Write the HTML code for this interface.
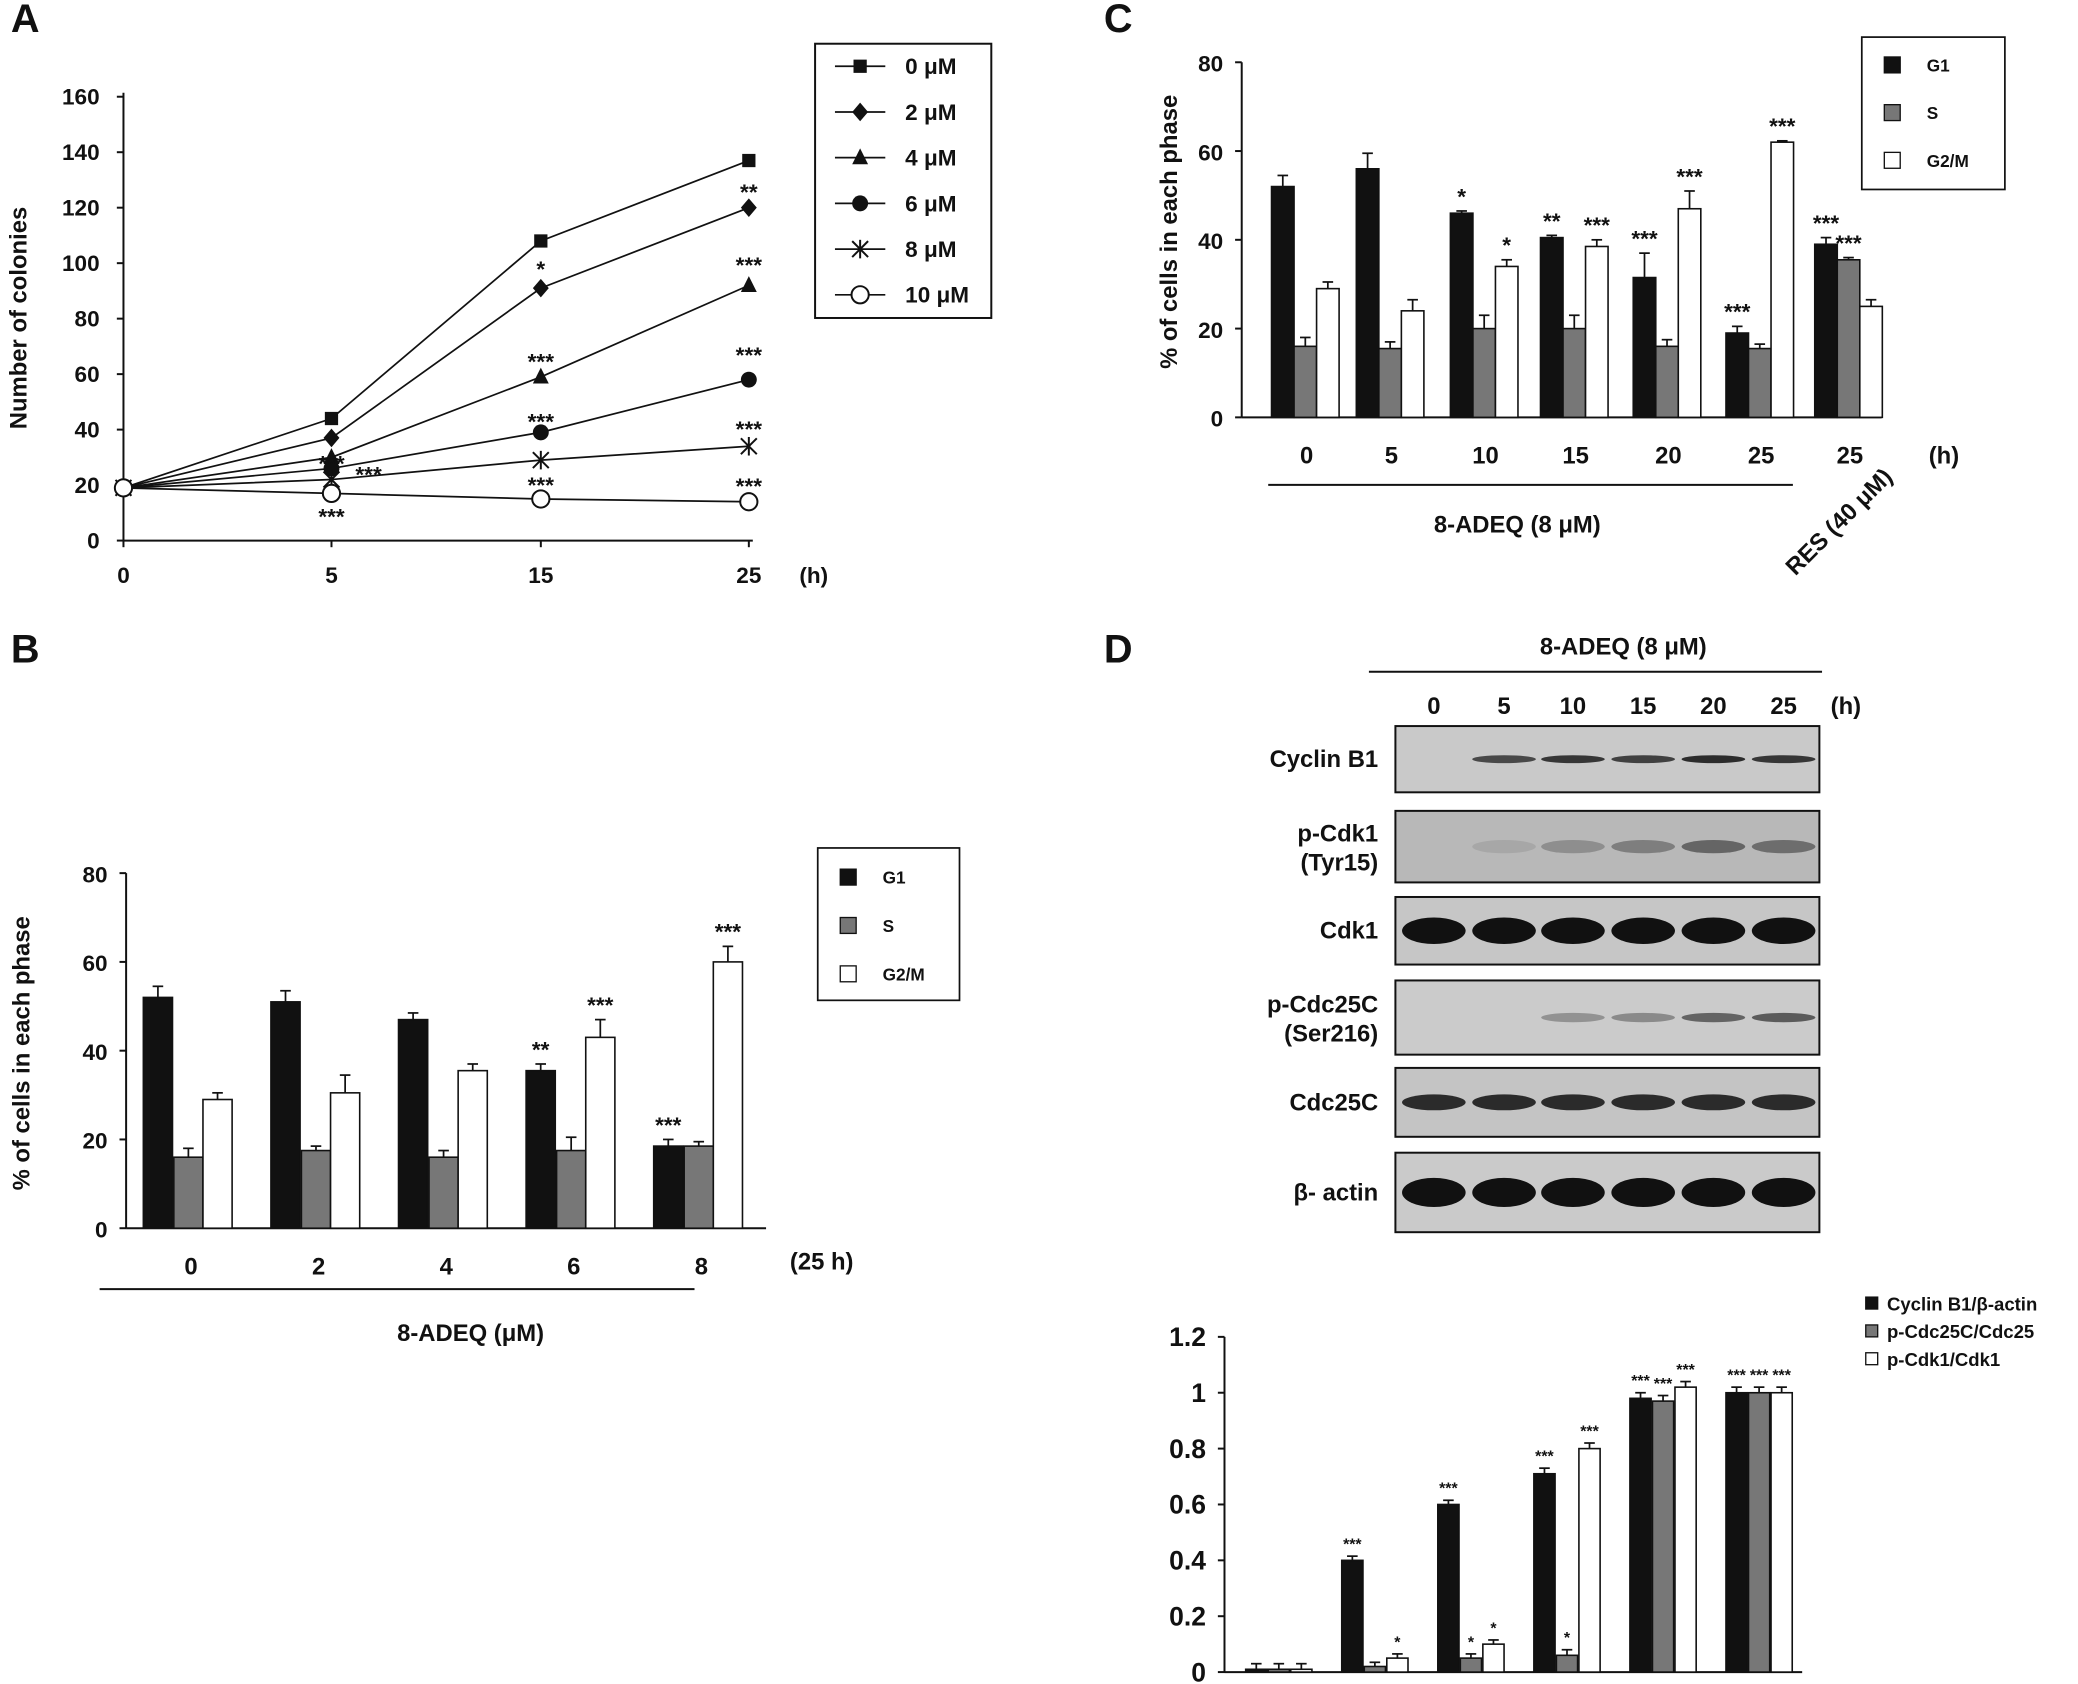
<!DOCTYPE html>
<html><head><meta charset="utf-8">
<style>
html,body{margin:0;padding:0;background:#fff;}
svg{display:block;font-family:"Liberation Sans",Arial,sans-serif;}
text{font-weight:bold;fill:#111;}
</style></head>
<body>
<svg id="fig" width="2078" height="1684" viewBox="0 0 1568 1271" xmlns="http://www.w3.org/2000/svg">
<g id="root"></g>
</svg>
<script>
// ---------- Data ----------
const aTimes=[0,5,15,25];
const aLabels=["0 μM","2 μM","4 μM","6 μM","8 μM","10 μM"];
const a0=[19,44,108,137];
const a2=[19,37,91,120];
const a4=[19,30,59,92];
const a6=[19,26,39,58];
const a8=[19,22,29,34];
const a10=[19,17,15,14];
const aYTicks=[0,20,40,60,80,100,120,140,160];

const bCats=["0","2","4","6","8"];
const bG1=[52,51,47,35.5,18.5];
const bS=[16,17.5,16,17.5,18.5];
const bG2M=[29,30.5,35.5,43,60];
const bG1e=[2.5,2.5,1.5,1.5,1.5];
const bSe=[2,1,1.5,3,1];
const bG2Me=[1.5,4,1.5,4,3.5];

const cCats=["0","5","10","15","20","25","25"];
const cG1=[52,56,46,40.5,31.5,19,39];
const cS=[16,15.5,20,20,16,15.5,35.5];
const cG2M=[29,24,34,38.5,47,62,25];
const cG1e=[2.5,3.5,0.5,0.5,5.5,1.5,1.5];
const cSe=[2,1.5,3,3,1.5,1,0.5];
const cG2Me=[1.5,2.5,1.5,1.5,4,0.3,1.5];

const dCB=[0.01,0.4,0.6,0.71,0.98,1.0];
const dCdc=[0.01,0.02,0.05,0.06,0.97,1.0];
const dCdk=[0.01,0.05,0.1,0.8,1.02,1.0];
const dE=[0.02,0.015,0.015,0.02,0.02,0.02];
const dTicks=[0,0.2,0.4,0.6,0.8,1,1.2];
const dTickLbl=["0","0.2","0.4","0.6","0.8","1","1.2"];

// ---------- helpers ----------
const NS="http://www.w3.org/2000/svg";
const root=document.getElementById('root');
function mk(tag,attrs,parent,txt){const e=document.createElementNS(NS,tag);for(const k in attrs)e.setAttribute(k,attrs[k]);if(txt!==undefined)e.textContent=txt;(parent||root).appendChild(e);return e;}
function line(x1,y1,x2,y2,w,p){return mk('line',{x1,y1,x2,y2,stroke:'#111','stroke-width':w||1.5},p);}
function txt(x,y,s,size,anchor,p){return mk('text',{x,y,'font-size':size||17,'text-anchor':anchor||'middle'},p,s);}

// panel letters
[["A",8,24],["B",8,500],["C",833,24],["D",833,500]].forEach(l=>{
 const t=txt(l[1],l[2],l[0],30,'start');
 
 
});

// ---------- Panel A ----------
(function(){
 const g=mk('g',{});
 
 
 const X=t=>93+ (t===0?0: t===5?157: t===15?315:472);
 const Y=v=>408-v*(335/160);
 line(93,70,93,408,1.5,g);line(93,408,568,408,1.5,g);
 aYTicks.forEach(v=>{line(88,Y(v),93,Y(v),1.5,g);txt(75,Y(v)+6,String(v),17,'end',g);});
 aTimes.forEach(t=>{line(X(t),408,X(t),413,1.5,g);txt(X(t),440,String(t),17,'middle',g);});
 txt(614,440,"(h)",17,'middle',g);
 const yt=txt(0,0,"Number of colonies",18,'middle',g);
 yt.setAttribute('transform','translate(20,240) rotate(-90)');
 
 const series=[a0,a2,a4,a6,a8,a10];
 const marker=(k,x,y,p)=>{
  if(k===0)mk('rect',{x:x-5,y:y-5,width:10,height:10,fill:'#111'},p);
  else if(k===1)mk('path',{d:`M${x} ${y-7}L${x+6} ${y}L${x} ${y+7}L${x-6} ${y}Z`,fill:'#111'},p);
  else if(k===2)mk('path',{d:`M${x} ${y-7}L${x+6} ${y+5}L${x-6} ${y+5}Z`,fill:'#111'},p);
  else if(k===3)mk('circle',{cx:x,cy:y,r:6,fill:'#111'},p);
  else if(k===4){line(x-6,y-6,x+6,y+6,1.5,p);line(x-6,y+6,x+6,y-6,1.5,p);line(x,y-7,x,y+7,1.5,p);}
  else mk('circle',{cx:x,cy:y,r:6.5,fill:'#fff',stroke:'#111','stroke-width':1.5},p);
 };
 series.forEach((s,k)=>{
  const sg=mk('g',{},g);
  
  
  mk('polyline',{points:s.map((v,i)=>X(aTimes[i])+','+Y(v)).join(' '),fill:'none',stroke:'#111','stroke-width':1.3},sg);
  s.forEach((v,i)=>marker(k,X(aTimes[i]),Y(v),sg));
 });
 // stars
 [[408,205,"*"],[565,147,"**"],[565,202,"***"],[408,275,"***"],[565,270,"***"],[408,320,"***"],[565,326,"***"],[250,352,"***"],[278,360,"***"],[408,368,"***"],[565,369,"***"],[250,392,"***"]].forEach(s=>txt(s[0],s[1]+4,s[2],17,'middle',g));
 // legend
 const lg=mk('g',{},g);
 
 
 mk('rect',{x:615,y:33,width:133,height:207,fill:'#fff',stroke:'#111','stroke-width':1.5},lg);
 aLabels.forEach((l,k)=>{const y=50+k*34.5;line(630,y,668,y,1.3,lg);marker(k,649,y,lg);txt(683,y+6,l,17,'start',lg);});
})();

// ---------- bar helper ----------
function barChart(o){
 const g=mk('g',{});
 
 
 const Y=v=>o.y0-(v-o.vmin)*o.ppu;
 line(o.x0,Y(o.vmax),o.x0,o.y0,1.5,g);line(o.x0,o.y0,o.x1,o.y0,1.5,g);
 o.ticks.forEach((v,i)=>{line(o.x0-5,Y(v),o.x0,Y(v),1.5,g);txt(o.x0-14,Y(v)+7,o.tickLbl?o.tickLbl[i]:String(v),o.tsize||17,'end',g);});
 const fills=['#111','#777','#fff'];
 o.series.forEach((s,k)=>{
  s.forEach((v,i)=>{
   const cx=o.cx(i)+o.off[k];
   const e=o.err[k][i];
   line(cx,Y(v),cx,Y(v+e),1.3,g);line(cx-4,Y(v+e),cx+4,Y(v+e),1.3,g);
   const r=mk('rect',{x:cx-o.bw/2,y:Y(v),width:o.bw,height:o.y0-Y(v),fill:fills[k],stroke:'#111','stroke-width':1.2},g);
   
   
  });
 });
 if(o.cats)o.cats.forEach((c,i)=>txt(o.cx(i),o.y0+35,c,18,'middle',g));
 (o.stars||[]).forEach(s=>{const cx=o.cx(s[0])+o.off[s[1]];txt(cx,Y(o.series[s[1]][s[0]]+o.err[s[1]][s[0]])-5,s[2],o.ssize||17,'middle',g);});
 return g;
}

// ---------- Panel B ----------
(function(){
 const g=barChart({name:'panel-b-bar-chart',x0:95,x1:578,y0:927,vmin:0,vmax:80,ppu:268/80,ticks:[0,20,40,60,80],
  cx:i=>144+i*96.3,off:[-25,-2,20],bw:22,series:[bG1,bS,bG2M],err:[bG1e,bSe,bG2Me],sn:['g1','s','g2m'],cats:bCats,
  stars:[[3,0,"**"],[3,2,"***"],[4,0,"***"],[4,2,"***"]]});
 const yt=txt(0,0,"% of cells in each phase",18,'middle',g);
 yt.setAttribute('transform','translate(22,795) rotate(-90)');
 line(75,973,524,973,1.5,g);
 txt(355,1012,"8-ADEQ (μM)",18,'middle',g);
 txt(620,958,"(25 h)",18,'middle',g);
 const lg=mk('g',{},g);
 
 
 mk('rect',{x:617,y:640,width:107,height:115,fill:'#fff',stroke:'#111','stroke-width':1.3},lg);
 [['#111','G1'],['#777','S'],['#fff','G2/M']].forEach((l,k)=>{const y=662+k*36.5;mk('rect',{x:634,y:y-6,width:12,height:12,fill:l[0],stroke:'#111'},lg);txt(666,y+5,l[1],13,'start',lg);});
})();

// ---------- Panel C ----------
(function(){
 const cxs=[986,1050,1121,1189,1259,1329,1396];
 const g=barChart({name:'panel-c-bar-chart',x0:937,x1:1420,y0:315,vmin:0,vmax:80,ppu:268/80,ticks:[0,20,40,60,80],
  cx:i=>cxs[i],off:[-18,-1,16],bw:17,series:[cG1,cS,cG2M],err:[cG1e,cSe,cG2Me],sn:['g1','s','g2m'],cats:cCats,
  stars:[[2,0,"*"],[2,2,"*"],[3,0,"**"],[3,2,"***"],[4,0,"***"],[4,2,"***"],[5,0,"***"],[5,2,"***"],[6,0,"***"],[6,1,"***"]]});
 const yt=txt(0,0,"% of cells in each phase",18,'middle',g);
 yt.setAttribute('transform','translate(888,175) rotate(-90)');
 line(957,366,1353,366,1.5,g);
 txt(1145,402,"8-ADEQ (8 μM)",18,'middle',g);
 txt(1467,350,"(h)",18,'middle',g);
 const r=txt(0,0,"RES (40 μM)",18,'middle',g);
 r.setAttribute('transform','translate(1392,398) rotate(-45)');
 const lg=mk('g',{},g);
 
 
 mk('rect',{x:1405,y:28,width:108,height:115,fill:'#fff',stroke:'#111','stroke-width':1.3},lg);
 [['#111','G1'],['#777','S'],['#fff','G2/M']].forEach((l,k)=>{const y=49+k*36;mk('rect',{x:1422,y:y-6,width:12,height:12,fill:l[0],stroke:'#111'},lg);txt(1454,y+5,l[1],13,'start',lg);});
})();

// ---------- Panel D blots ----------
(function(){
 const g=mk('g',{});
 
 
 txt(1225,494,"8-ADEQ (8 μM)",18,'middle',g);
 line(1033,507,1375,507,1.5,g);
 const lanes=[1082,1135,1187,1240,1293,1346];
 ["0","5","10","15","20","25"].forEach((l,i)=>txt(lanes[i],539,l,18,'middle',g));
 txt(1393,539,"(h)",18,'middle',g);
 const blots=[
  ["Cyclin B1",548,598,[0,0.7,0.8,0.75,0.85,0.8],'#c9c9c9',6],
  ["p-Cdk1|(Tyr15)",612,666,[0,0.1,0.25,0.35,0.5,0.45],'#b8b8b8',10],
  ["Cdk1",677,728,[1,1,1,1,1,1],'#c6c6c6',20],
  ["p-Cdc25C|(Ser216)",740,796,[0,0,0.3,0.35,0.55,0.6],'#cbcbcb',7],
  ["Cdc25C",806,858,[0.85,0.85,0.85,0.85,0.85,0.85],'#c4c4c4',12],
  ["β- actin",870,930,[1,1,1,1,1,1],'#cacaca',22]];
 blots.forEach(b=>{
  const bg=mk('g',{},g);
  
  
  mk('rect',{x:1053,y:b[1],width:320,height:b[2]-b[1],fill:b[4],stroke:'#111','stroke-width':1.5},bg);
  const cy=(b[1]+b[2])/2;
  b[3].forEach((a,i)=>{if(a>0)mk('ellipse',{cx:lanes[i],cy,rx:24,ry:b[5]/2,fill:'#111','fill-opacity':a},bg);});
  const parts=b[0].split('|');
  if(parts.length===1)txt(1040,cy+6,parts[0],18,'end',bg);
  else{txt(1040,cy-4,parts[0],18,'end',bg);txt(1040,cy+18,parts[1],18,'end',bg);}
 });
})();

// ---------- Panel D bars ----------
(function(){
 const g=barChart({name:'panel-d-bar-chart',x0:924,x1:1360,y0:1262,vmin:0,vmax:1.2,ppu:253/1.2,ticks:dTicks,tickLbl:dTickLbl,tsize:20,
  cx:i=>965+i*72.5,off:[-17,0,17],bw:16,series:[dCB,dCdc,dCdk],err:[dE,dE,dE],sn:['cyclinb1','pcdc25c','pcdk1'],
  ssize:12,stars:[[1,0,"***"],[1,2,"*"],[2,0,"***"],[2,1,"*"],[2,2,"*"],[3,0,"***"],[3,1,"*"],[3,2,"***"],[4,0,"***"],[4,1,"***"],[4,2,"***"],[5,0,"***"],[5,1,"***"],[5,2,"***"]]});
 const lg=mk('g',{},g);
 
 
 [['#111','Cyclin B1/β-actin'],['#777','p-Cdc25C/Cdc25'],['#fff','p-Cdk1/Cdk1']].forEach((l,k)=>{const y=984+k*21;mk('rect',{x:1408,y:y-5,width:9,height:9,fill:l[0],stroke:'#111'},lg);txt(1424,y+5,l[1],14,'start',lg);});
})();
</script>
</body></html>
